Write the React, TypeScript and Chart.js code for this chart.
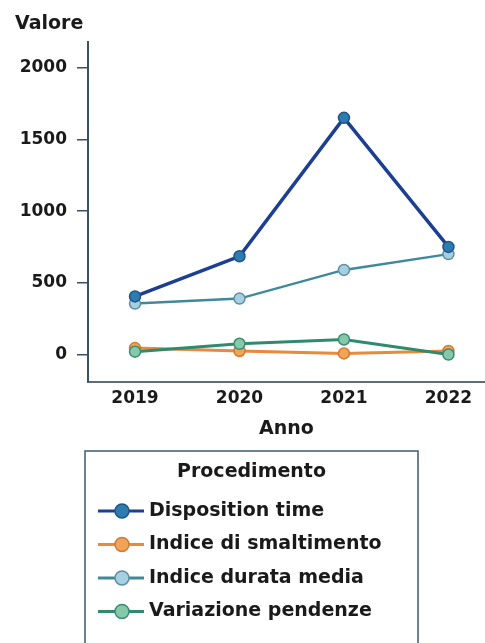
import React, { useEffect, useRef } from "react";
import { Chart, registerables } from "chart.js";

Chart.register(...registerables);

const years = [2019, 2020, 2021, 2022];
const seriesNames = [
  "Disposition time",
  "Indice di smaltimento",
  "Indice durata media",
  "Variazione pendenze",
];
const dispositionTime = [405, 685, 1650, 750];
const indiceSmaltimento = [45, 25, 8, 25];
const indiceDurataMedia = [355, 390, 590, 700];
const variazionePendenze = [20, 75, 105, 0];
const yTicks = [0, 500, 1000, 1500, 2000];

const lineColors = ["#1d3f92", "#e8893b", "#3e8a9c", "#2f8b6f"];
const pointFills = ["#2c7cb2", "#f2a358", "#a6cfe0", "#83c9aa"];
const pointBorders = ["#1f5586", "#d27b33", "#5b8fa6", "#3d8c72"];
const lineWidths = [3.5, 3, 2.5, 3];
const drawOrder = [0, 3, 2, 1];

const FONT = "'DejaVu Sans', sans-serif";

const legendBoxPlugin = {
  id: "legendBox",
  afterDraw(chart: any) {
    const ctx = chart.ctx;
    const xs = chart.scales.x;
    const top = xs.bottom + 11;
    const left = 85;
    const right = 418;
    ctx.save();
    ctx.strokeStyle = "#3d5a70";
    ctx.lineWidth = 1.5;
    ctx.strokeRect(left, top, right - left, chart.height - top + 10);
    ctx.fillStyle = "#1a1a1a";
    ctx.font = `bold 19px ${FONT}`;
    ctx.textAlign = "center";
    ctx.textBaseline = "middle";
    ctx.fillText("Procedimento", (left + right) / 2, top + 21);
    chart.data.datasets.forEach((ds: any, i: number) => {
      const cy = top + 60 + i * 33.5;
      ctx.strokeStyle = ds.borderColor;
      ctx.lineWidth = 3;
      ctx.beginPath();
      ctx.moveTo(98, cy);
      ctx.lineTo(144, cy);
      ctx.stroke();
      ctx.beginPath();
      ctx.arc(122, cy, 7, 0, Math.PI * 2);
      ctx.fillStyle = ds.pointBackgroundColor;
      ctx.fill();
      ctx.lineWidth = 1.5;
      ctx.strokeStyle = ds.pointBorderColor;
      ctx.stroke();
      ctx.fillStyle = "#1a1a1a";
      ctx.textAlign = "left";
      ctx.fillText(ds.label, 149, cy);
    });
    ctx.restore();
  },
};

export default function App() {
  const ref = useRef<HTMLCanvasElement>(null);
  useEffect(() => {
    document.body.style.margin = "0";
    const all = [dispositionTime, indiceSmaltimento, indiceDurataMedia, variazionePendenze];
    const chart = new Chart(ref.current as HTMLCanvasElement, {
      type: "line",
      data: {
        datasets: all.map((vals, i) => ({
          label: seriesNames[i],
          data: years.map((y, j) => ({ x: y, y: vals[j] })),
          order: drawOrder[i],
          borderColor: lineColors[i],
          backgroundColor: pointFills[i],
          pointBackgroundColor: pointFills[i],
          pointBorderColor: pointBorders[i],
          pointBorderWidth: 1.5,
          pointRadius: 5.5,
          borderWidth: lineWidths[i],
          tension: 0,
        })),
      },
      options: {
        animation: false,
        responsive: false,
        layout: { autoPadding: false, padding: { left: 15, right: 0, top: 0, bottom: 203 } },
        plugins: {
          legend: { display: false },
          tooltip: { enabled: false },
          title: {
            display: true,
            text: "Valore",
            align: "start",
            color: "#1a1a1a",
            font: { family: FONT, size: 19, weight: "bold" },
            padding: { top: 13, bottom: 6 },
          },
        },
        scales: {
          x: {
            type: "linear",
            min: 2018.55,
            max: 2022.35,
            afterBuildTicks: (axis: any) => {
              axis.ticks = years.map((v) => ({ value: v }));
            },
            afterFit: (scale: any) => {
              scale.paddingLeft = 0;
              scale.paddingRight = 0;
            },
            ticks: {
              color: "#1a1a1a",
              font: { family: FONT, size: 17, weight: "bold" },
              padding: 7,
              maxRotation: 0,
              callback: (v: any) => String(v),
            },
            grid: { display: false, drawTicks: false },
            border: { display: true, color: "#5d6d7b", width: 2 },
            title: {
              display: true,
              text: "Anno",
              color: "#1a1a1a",
              font: { family: FONT, size: 19, weight: "bold" },
              padding: { top: 1, bottom: 0 },
            },
          },
          y: {
            min: -190,
            max: 2180,
            afterBuildTicks: (axis: any) => {
              axis.ticks = yTicks.map((v) => ({ value: v }));
            },
            afterFit: (scale: any) => {
              scale.width = 73;
            },
            ticks: {
              color: "#1a1a1a",
              font: { family: FONT, size: 17, weight: "bold" },
              padding: 10,
              callback: (v: any) => String(v),
            },
            grid: {
              drawOnChartArea: false,
              drawTicks: true,
              tickLength: 11,
              color: "#3d5060",
              lineWidth: 1.5,
            },
            border: { display: true, color: "#3d5060", width: 2 },
          },
        },
      },
      plugins: [legendBoxPlugin],
    } as any);
    return () => chart.destroy();
  }, []);
  return <canvas ref={ref} width={485} height={643} style={{ display: "block" }} />;
}
